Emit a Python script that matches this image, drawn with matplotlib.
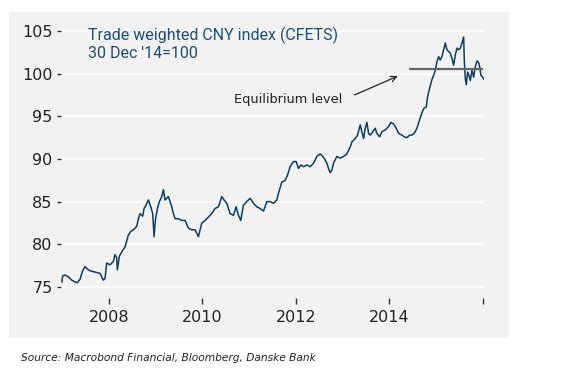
import matplotlib.pyplot as plt
from matplotlib.patches import Rectangle

# decimal years
years = [2007.000, 2007.014, 2007.064, 2007.135, 2007.207, 2007.278, 2007.328, 2007.385,
         2007.442, 2007.492, 2007.542, 2007.599, 2007.670, 2007.742, 2007.813, 2007.884,
         2007.920, 2007.955, 2008.027, 2008.098, 2008.134, 2008.169, 2008.184, 2008.226,
         2008.276, 2008.348, 2008.419, 2008.469, 2008.526, 2008.597, 2008.633, 2008.668,
         2008.725, 2008.754, 2008.797, 2008.847, 2008.897, 2008.939, 2008.968, 2008.996,
         2009.039, 2009.082, 2009.132, 2009.168, 2009.203, 2009.239, 2009.275, 2009.310,
         2009.346, 2009.381, 2009.417, 2009.488, 2009.560, 2009.631, 2009.702, 2009.774,
         2009.845, 2009.916, 2009.988, 2010.059, 2010.130, 2010.201, 2010.273, 2010.344,
         2010.415, 2010.465, 2010.522, 2010.594, 2010.665, 2010.722, 2010.772, 2010.822,
         2010.879, 2010.950, 2011.021, 2011.093, 2011.164, 2011.235, 2011.307, 2011.378,
         2011.449, 2011.520, 2011.592, 2011.627, 2011.699, 2011.770, 2011.820, 2011.877,
         2011.948, 2012.005, 2012.055, 2012.105, 2012.162, 2012.234, 2012.305, 2012.376,
         2012.447, 2012.519, 2012.576, 2012.626, 2012.661, 2012.697, 2012.733, 2012.768,
         2012.804, 2012.875, 2012.947, 2013.018, 2013.089, 2013.160, 2013.196, 2013.267,
         2013.317, 2013.374, 2013.410, 2013.446, 2013.481, 2013.517, 2013.553, 2013.588,
         2013.645, 2013.695, 2013.731, 2013.788, 2013.838, 2013.909, 2013.980, 2014.030,
         2014.087, 2014.144, 2014.194, 2014.266, 2014.316, 2014.373, 2014.430, 2014.480,
         2014.529, 2014.586, 2014.643, 2014.693, 2014.729, 2014.786, 2014.815, 2014.857,
         2014.907, 2014.943, 2014.979, 2015.014, 2015.050, 2015.086, 2015.121, 2015.157,
         2015.193, 2015.228, 2015.264, 2015.300, 2015.335, 2015.371, 2015.407, 2015.442,
         2015.478, 2015.514, 2015.549, 2015.585, 2015.599, 2015.620, 2015.642, 2015.670,
         2015.699, 2015.727, 2015.763, 2015.799, 2015.834, 2015.870, 2015.906, 2015.927,
         2015.955, 2015.991, 2016.012]

cfets = [75.6, 76.3, 76.4, 76.2, 75.8, 75.6, 75.5, 75.9,
         76.9, 77.4, 77.1, 76.9, 76.8, 76.7, 76.6, 75.8,
         76.0, 77.8, 77.6, 78.0, 78.8, 78.4, 77.0, 78.6,
         79.1, 79.7, 81.1, 81.5, 81.7, 82.1, 83.0, 83.6,
         83.3, 84.2, 84.6, 85.2, 84.4, 83.6, 80.9, 82.8,
         84.2, 85.0, 85.6, 86.4, 85.2, 85.4, 85.6, 85.0,
         84.4, 83.6, 83.0, 83.0, 82.8, 82.8, 81.9, 81.7,
         81.7, 80.9, 82.5, 82.8, 83.2, 83.6, 84.2, 84.4,
         85.6, 85.2, 84.8, 83.6, 83.4, 84.4, 83.4, 82.8,
         84.6, 85.0, 85.4, 84.8, 84.4, 84.2, 83.9, 85.0,
         85.0, 84.8, 85.2, 86.0, 87.3, 87.5, 88.1, 89.1,
         89.7, 89.7, 88.9, 89.3, 89.1, 89.3, 89.1, 89.5,
         90.3, 90.6, 90.3, 89.9, 89.5, 88.9, 88.4, 88.7,
         89.5, 90.3, 90.1, 90.3, 90.6, 91.4, 92.0, 92.4,
         92.8, 94.0, 93.2, 92.4, 93.6, 94.3, 93.0, 92.8,
         93.2, 93.6, 93.0, 92.6, 93.2, 93.4, 93.8, 94.3,
         94.1, 93.6, 93.0, 92.8, 92.6, 92.5, 92.8, 92.8,
         93.0, 93.6, 94.6, 95.4, 95.9, 96.1, 97.3, 98.3,
         99.3, 99.8, 100.4, 101.4, 102.0, 101.6, 102.0, 102.8,
         103.6, 102.8, 102.6, 102.4, 101.8, 101.0, 102.2, 103.0,
         102.8, 103.0, 103.6, 104.3, 101.6, 99.4, 98.7, 100.2,
         99.8, 99.2, 100.4, 99.6, 100.8, 101.5, 101.3, 100.8,
         99.8, 99.6, 99.4]

yticks = [75, 80, 85, 90, 95, 100, 105]
xticks = [2008, 2010, 2012, 2014, 2016]
xticklabels = ["2008", "2010", "2012", "2014", ""]

eq_level = 100.5
eq_start = 2014.42

panel = "#f2f2f2"
navy = "#0b3d62"

fig = plt.figure(figsize=(5.66, 3.70), dpi=100)
fig.add_artist(Rectangle((9 / 566, 1 - 338 / 370), 500 / 566, 326 / 370,
                         transform=fig.transFigure, facecolor=panel,
                         edgecolor="none", zorder=-10))

ax = fig.add_axes([61 / 566, 1 - 298 / 370, 423 / 566, (298 - 22.5) / 370])
ax.set_facecolor(panel)
for s in ax.spines.values():
    s.set_visible(False)

ax.plot(years, cfets, color=navy, lw=1.1, zorder=3)
ax.hlines(eq_level, eq_start, 2016.0, color="#666666", lw=1.6, zorder=4)

ax.set_xlim(2006.979, 2016.02)
ax.set_ylim(73.71, 106)
ax.set_yticks(yticks)
ax.set_xticks(xticks)
ax.set_xticklabels(xticklabels)
ax.yaxis.grid(True, color="white", lw=1.3)
ax.set_axisbelow(True)
ax.tick_params(axis="y", length=3, width=1, color="#333333", pad=3,
               labelsize=11.5, labelcolor="#222222")
ax.tick_params(axis="x", length=4, width=1, color="#333333", pad=5,
               labelsize=11.5, labelcolor="#222222")

ax.text(2012.99, 97.03, "Equilibrium level", ha="right", va="center",
        fontsize=9.3, color="#222222")
ax.annotate("", xy=(2014.23, 99.84), xytext=(2013.20, 97.38),
            arrowprops=dict(arrowstyle="->", color="#222222", lw=0.9))

fig.text(88 / 566, 1 - 35 / 370, "Trade weighted CNY index (CFETS)",
         ha="left", va="center", fontsize=11.5, color="#1a4f78", family="Roboto")
fig.text(88 / 566, 1 - 54 / 370, "30 Dec '14=100",
         ha="left", va="center", fontsize=11.5, color="#1a4f78", family="Roboto")
fig.text(21 / 566, 1 - 358 / 370, "Source: Macrobond Financial, Bloomberg, Danske Bank",
         ha="left", va="center", fontsize=7.7, style="italic", color="#222222")

fig.savefig("out.png", dpi=100)
